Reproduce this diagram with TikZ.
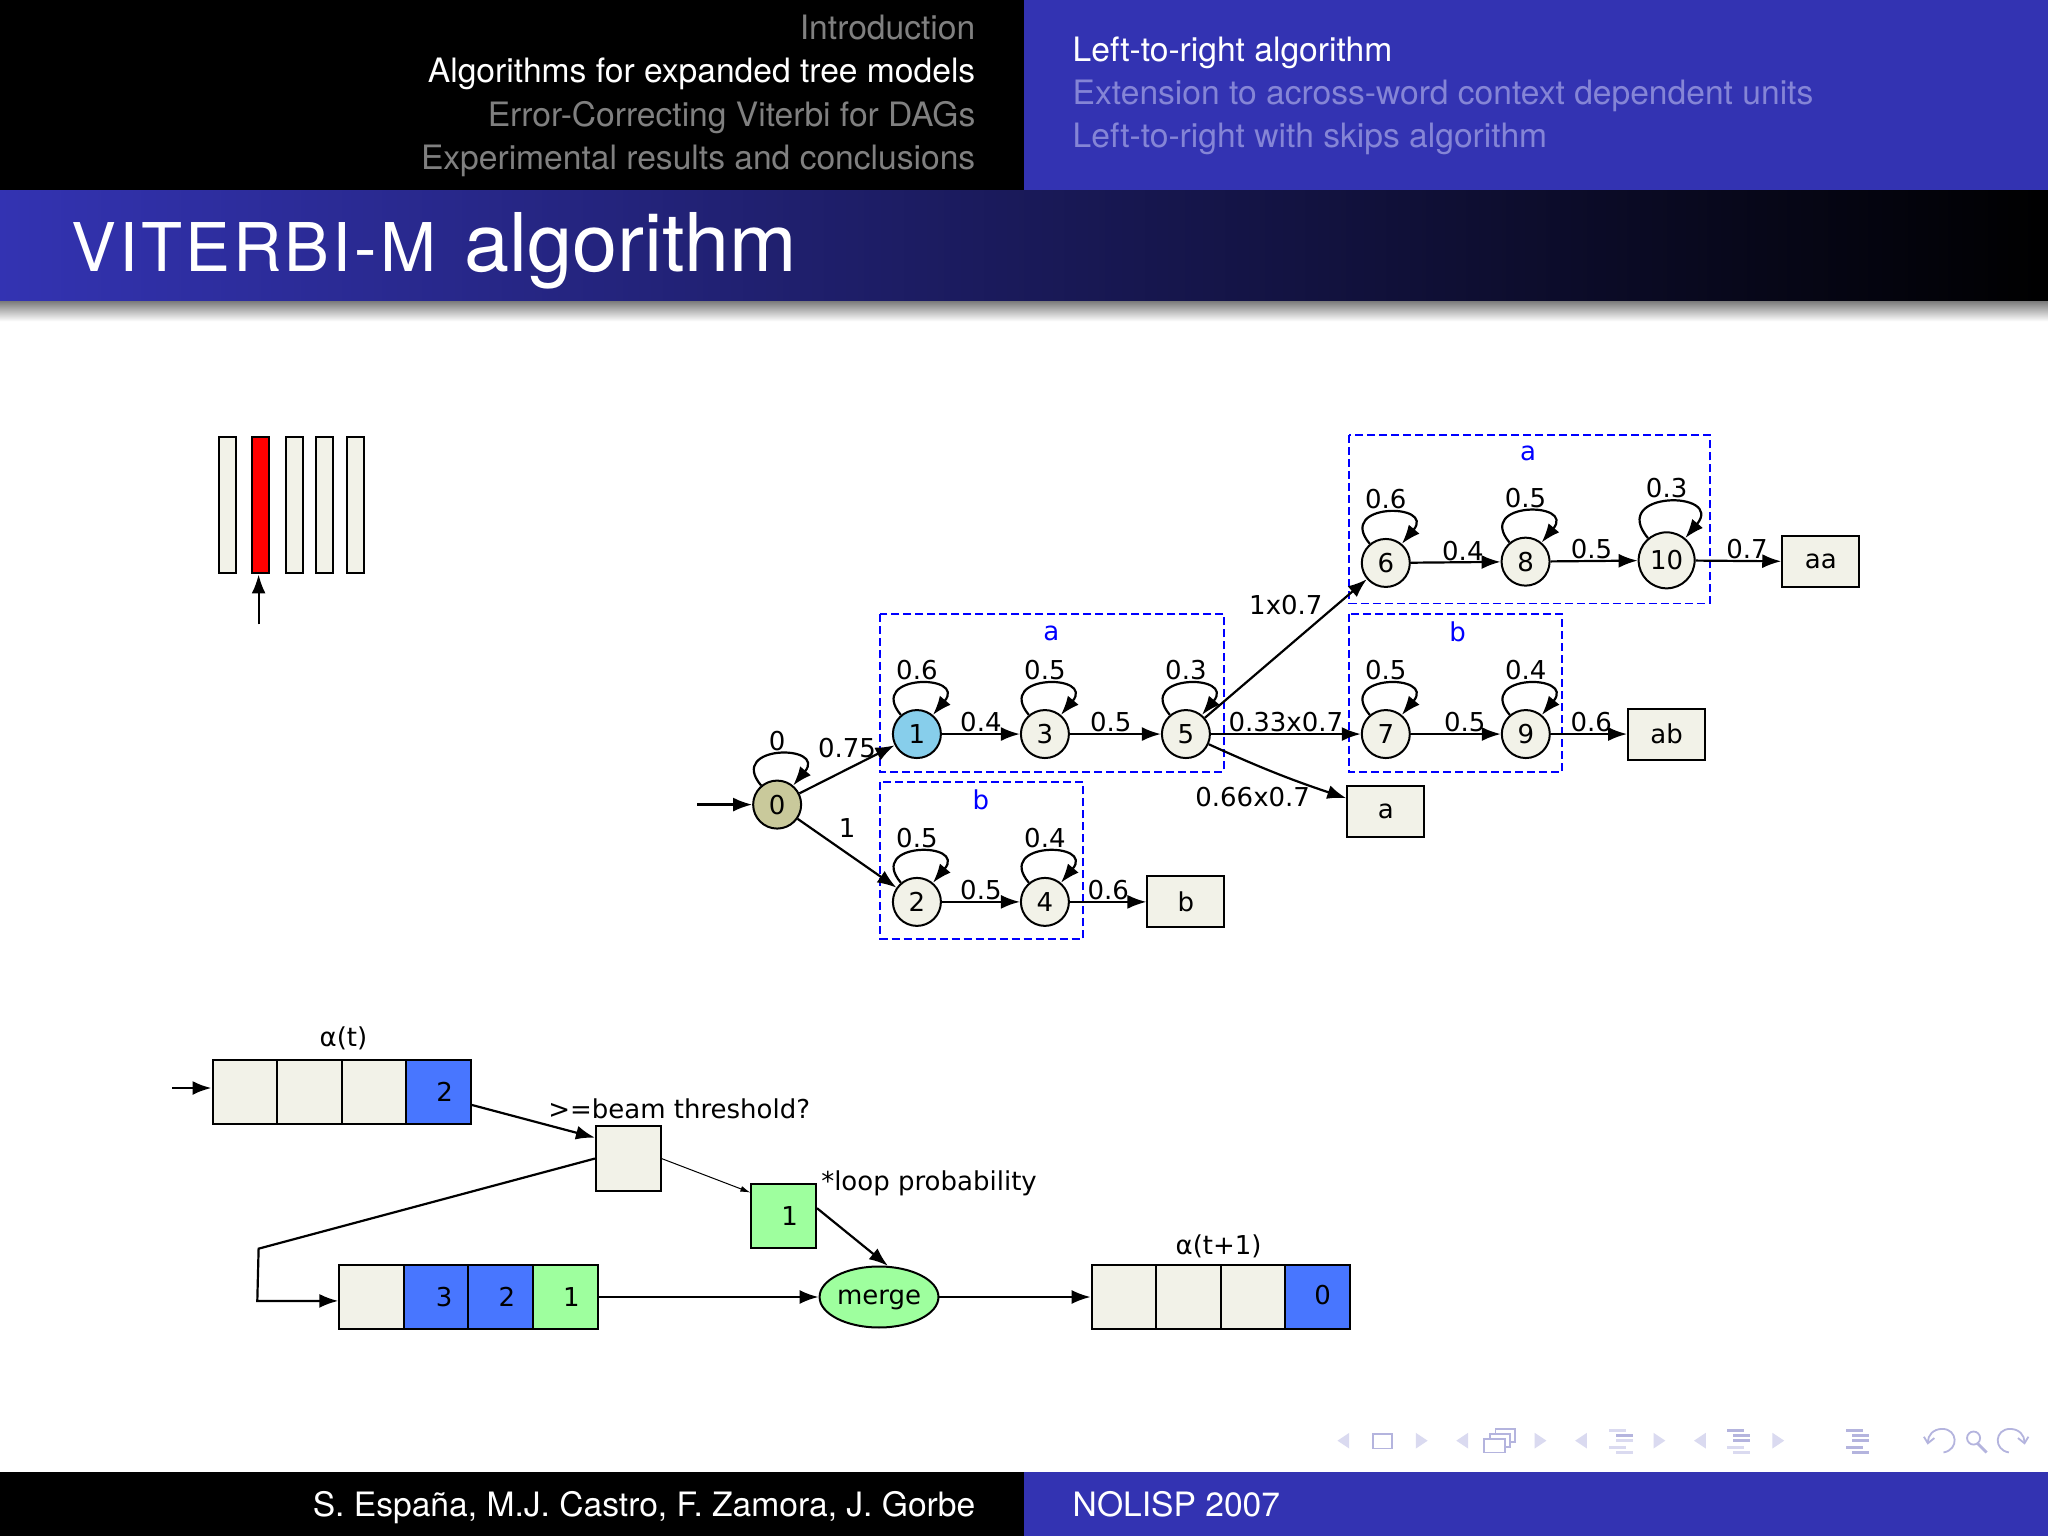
\documentclass[tikz,border=0pt]{standalone}
\usepackage{fontspec}
\setmainfont{TeX Gyre Heros}
\newfontfamily\graphfont{DejaVu Sans}
\usetikzlibrary{automata, positioning, arrows.meta, shapes.geometric}
\definecolor{slideblue}{HTML}{3333B2}
\definecolor{fadeblue}{HTML}{8585D6}
\definecolor{navblue}{HTML}{B4B4DE}
\definecolor{navpale}{HTML}{DADAF0}
\definecolor{cream}{HTML}{F2F2E8}
\definecolor{olive}{HTML}{C9C99B}
\definecolor{sky}{HTML}{87CEEB}
\definecolor{cellblue}{HTML}{4876FF}
\definecolor{cellgreen}{HTML}{9EFF9E}
\tikzset{
  every state/.style={draw=black,line width=1pt,fill=cream,minimum size=24pt,inner sep=0pt,font=\graphfont\fontsize{13}{15}\selectfont},
  flow/.style={line width=1.1pt,>={Latex[length=9.5pt,width=7pt]}},
  lab/.style={font=\graphfont\fontsize{13}{15}\selectfont,inner sep=.3pt},
  looplab/.style={lab,inner sep=1.5pt},
  final/.style={draw=black,line width=1pt,fill=cream,minimum width=38.5pt,minimum height=25.5pt,inner sep=0pt,font=\graphfont\fontsize{13}{15}\selectfont},
  group/.style={draw=blue,line width=.9pt,dash pattern=on 4pt off 2pt},
  grouplab/.style={lab,text=blue},
  cell/.style={draw=black,line width=1pt,fill=cream,minimum size=32.3pt,inner sep=0pt,font=\graphfont\fontsize{13}{15}\selectfont},
  bar/.style={draw=black,line width=1pt,fill=cream,minimum width=8.5pt,minimum height=68pt,inner sep=0pt},
  head/.style={font=\fontsize{16.8}{20}\selectfont,inner sep=0pt},
  navtip/.style={fill=navpale,draw=none},
  navline/.style={draw=navblue,line width=.9pt},
  selfloop/.style={out=130,in=50,above,every loop/.style={looseness=4.3,min distance=0pt},loop}
}
\begin{document}
\begin{tikzpicture}[x=.65306pt,y=-.65306pt,shorten >=0pt,on grid,auto]
  \useasboundingbox (0,0) rectangle (1568,1176);
  % slide frame
  \fill[white] (0,0) rectangle (1568,1176);
  \fill[black] (0,0) rectangle (784,146);
  \fill[slideblue] (784,0) rectangle (1568,146);
  \shade[left color=slideblue,right color=black] (0,146) rectangle (1568,231);
  \shade[top color=black!50,bottom color=white] (0,231) rectangle (1568,246);
  \fill[black] (0,1127) rectangle (784,1176);
  \fill[slideblue] (784,1127) rectangle (1568,1176);
  \node[head,text=black!50,anchor=base east] (sec1) at (747,30.5) {Introduction};
  \node[head,text=white,anchor=base east] (sec2) at (747,63.5) {Algorithms for expanded tree models};
  \node[head,text=black!50,anchor=base east] (sec3) at (747,96.5) {Error-Correcting Viterbi for DAGs};
  \node[head,text=black!50,anchor=base east] (sec4) at (747,129.5) {Experimental results and conclusions};
  \node[head,text=white,anchor=base west] (sub1) at (821,47) {Left-to-right algorithm};
  \node[head,text=fadeblue,anchor=base west] (sub2) at (821,80) {Extension to across-word context dependent units};
  \node[head,text=fadeblue,anchor=base west] (sub3) at (821,113) {Left-to-right with skips algorithm};
  \node[text=white,anchor=base west,inner sep=0pt] (title) at (54.5,208) {\fontsize{33.6}{38}\selectfont\addfontfeatures{LetterSpace=4.6}VITERBI-M\hspace{14pt}\fontsize{40.5}{46}\selectfont\addfontfeatures{LetterSpace=0}algorithm};
  \node[head,text=white,anchor=base east] (authors) at (747,1161) {S. España, M.J. Castro, F. Zamora, J. Gorbe};
  \node[head,text=white,anchor=base west] (conf) at (821,1161) {NOLISP 2007};
  % navigation symbols
  \foreach \x in {1024,1115,1206,1297} \fill[navtip] (\x+9,1097) -- (\x,1103) -- (\x+9,1109) -- cycle;
  \foreach \x in {1084,1175,1266,1357} \fill[navtip] (\x,1097) -- (\x+9,1103) -- (\x,1109) -- cycle;
  \draw[navline] (1051,1098) rectangle (1066,1109);
  \draw[navline] (1145,1094) rectangle (1160,1104);
  \draw[navline,fill=white] (1141,1098) rectangle (1156,1108);
  \draw[navline,fill=white] (1136,1102) rectangle (1152,1112);
  \foreach \x/\colA/\colB/\colC/\colD/\colE in {1232/navpale/navblue/navpale/navpale/navpale,1322/navblue/navblue/navblue/navpale/navpale,1413/navblue/navblue/navblue/navblue/navblue} {
    \fill[\colA] (\x,1094) rectangle +(13,2);
    \fill[\colB] (\x+5,1098) rectangle +(13,2);
    \fill[\colC] (\x+5,1102) rectangle +(13,2);
    \fill[\colD] (\x,1107) rectangle +(13,2);
    \fill[\colE] (\x+5,1111) rectangle +(13,2);
  }
  \draw[navline] (1488,1112) .. controls (1500,1110) and (1499,1094) .. (1487,1094) .. controls (1480,1094) and (1476,1099) .. (1476,1104);
  \draw[navline] (1473,1100) -- (1476,1105) -- (1481,1101);
  \draw[navline] (1511,1101) circle (5);
  \draw[navline,line width=1.4pt] (1514,1105) -- (1521,1112);
  \draw[navline] (1538,1112) .. controls (1526,1110) and (1527,1094) .. (1539,1094) .. controls (1546,1094) and (1550,1099) .. (1550,1104);
  \draw[navline] (1553,1100) -- (1550,1105) -- (1545,1101);
  % frames
  \node[bar] (bar1) at (174.5,387) {};
  \node[bar,fill=red] (bar2) at (199.5,387) {};
  \node[bar] (bar3) at (225.5,387) {};
  \node[bar] (bar4) at (248.5,387) {};
  \node[bar] (bar5) at (272.5,387) {};
  \coordinate (frame) at (198,478);
  \draw[->,flow] (frame) -- (bar2.south -| frame);
  % tree
  \node[state,fill=olive] (n_0) at (595,616) {0};
  \node[state,fill=sky] (n_1) at (702,562) {1};
  \node[state] (n_3) [right=64pt of n_1] {3};
  \node[state] (n_5) [right=70.5pt of n_3] {5};
  \node[state] (n_2) at (702,690.5) {2};
  \node[state] (n_4) [right=64pt of n_2] {4};
  \node[state] (n_6) at (1061,431) {6};
  \node[state] (n_8) at (1168,430) {8};
  \node[state,minimum size=28pt] (n_10) at (1276,429) {10};
  \node[state] (n_7) at (1061,562) {7};
  \node[state] (n_9) [right=70pt of n_7] {9};
  \node[final] (w_b) at (908,690.5) {b};
  \node[final] (w_a) at (1061,621) {a};
  \node[final] (w_ab) at (1276,562) {ab};
  \node[final] (w_aa) at (1394,430) {aa};
  \coordinate (start) at (534,616);
  \draw[group] (674,470) rectangle (937,591);
  \draw[group] (674,599) rectangle (829,719);
  \draw[group] (1033,333) rectangle (1309,462);
  \draw[group] (1033,470) rectangle (1196,591);
  \node[grouplab] (ga1) at (805,485) {a};
  \node[grouplab] (gb1) at (751,612) {b};
  \node[grouplab] (ga2) at (1170,347) {a};
  \node[grouplab] (gb2) at (1116,484) {b};
  \path[->,flow] (start) edge (n_0)
   (n_0) edge [selfloop] node[looplab] {0} ()
         edge node[lab,above,yshift=5pt] {0.75} (n_1)
         edge node[lab,above,yshift=7pt] {1} (n_2)
   (n_1) edge [selfloop] node[looplab] {0.6} ()
         edge node[lab] {0.4} (n_3)
   (n_3) edge [selfloop] node[looplab] {0.5} ()
         edge node[lab,pos=.45] {0.5} (n_5)
   (n_5) edge [selfloop] node[looplab] {0.3} ()
         edge node[lab,above,yshift=16pt] {1x0.7} (n_6)
         edge node[lab] {0.33x0.7} (n_7)
         edge [bend right=3] node[lab,below,xshift=-12pt,yshift=-6pt] {0.66x0.7} (w_a)
   (n_2) edge [selfloop] node[looplab] {0.5} ()
         edge node[lab] {0.5} (n_4)
   (n_4) edge [selfloop] node[looplab] {0.4} ()
         edge node[lab] {0.6} (w_b)
   (n_6) edge [selfloop] node[looplab] {0.6} ()
         edge node[lab,pos=.58] {0.4} (n_8)
   (n_8) edge [selfloop] node[looplab] {0.5} ()
         edge node[lab,pos=.47] {0.5} (n_10)
   (n_10) edge [selfloop] node[looplab] {0.3} ()
         edge node[lab,pos=.6] {0.7} (w_aa)
   (n_7) edge [selfloop] node[looplab] {0.5} ()
         edge node[lab,pos=.6] {0.5} (n_9)
   (n_9) edge [selfloop] node[looplab] {0.4} ()
         edge node[lab,pos=.53] {0.6} (w_ab);
  % arrays
  \begin{scope}[node distance=32.3pt]
  \node[cell] (in_1) at (187.5,836) {};
  \node[cell] (in_2) [right=of in_1] {};
  \node[cell] (in_3) [right=of in_2] {};
  \node[cell,fill=cellblue] (in_4) [right=of in_3] {\hspace{6pt}2};
  \node[cell] (aux_1) at (284.5,993) {};
  \node[cell,fill=cellblue] (aux_2) [right=of aux_1] {\hspace{8pt}3};
  \node[cell,fill=cellblue] (aux_3) [right=of aux_2] {\hspace{6pt}2};
  \node[cell,fill=cellgreen] (aux_4) [right=of aux_3] {\hspace{6pt}1};
  \node[cell] (out_1) at (860.5,993) {};
  \node[cell] (out_2) [right=of out_1] {};
  \node[cell] (out_3) [right=of out_2] {};
  \node[cell,fill=cellblue] (out_4) [right=of out_3] {\hspace{5pt}\raisebox{2pt}{0}};
  \end{scope}
  \node[cell] (test) at (481,887) {};
  \node[cell,fill=cellgreen] (prob) at (600,931) {\hspace{6pt}1};
  \node[draw=black,line width=1pt,fill=cellgreen,ellipse,minimum width=57pt,minimum height=30.5pt,inner sep=0pt,text height=8pt,text depth=1pt,font=\graphfont\fontsize{13}{15}\selectfont] (merge) at (673,993) {merge};
  \node[lab] (in_lab) at (263,795) {α(t)};
  \node[lab] (out_lab) at (933,954) {α(t+1)};
  \node[lab] (test_lab) at (520,849) {>=beam threshold?};
  \node[lab,anchor=west] (prob_lab) at (628,906) {*loop probability};
  \coordinate (feed) at (132,833);
  \coordinate (turn_1) at (198,956);
  \coordinate (turn_2) at (197,996);
  \draw[->,flow,line width=1.4pt] (feed) -- (in_1.west |- feed);
  \draw[->,flow] (in_4.east) ++(0,10) -- (test.north west |- 0,871);
  \draw[->,flow] (test.west) -- (turn_1) -- (turn_2) -- (aux_1.west |- turn_2);
  \draw[->,line width=.5pt,>={Latex[length=5pt,width=3pt]}] (test.east) -- (prob.west |- 0,913);
  \draw[->,flow] (prob.east) ++(0,-6) -- (merge.74);
  \draw[->,flow] (aux_4) -- (merge);
  \draw[->,flow] (merge) -- (out_1);
\end{tikzpicture}
\end{document}
